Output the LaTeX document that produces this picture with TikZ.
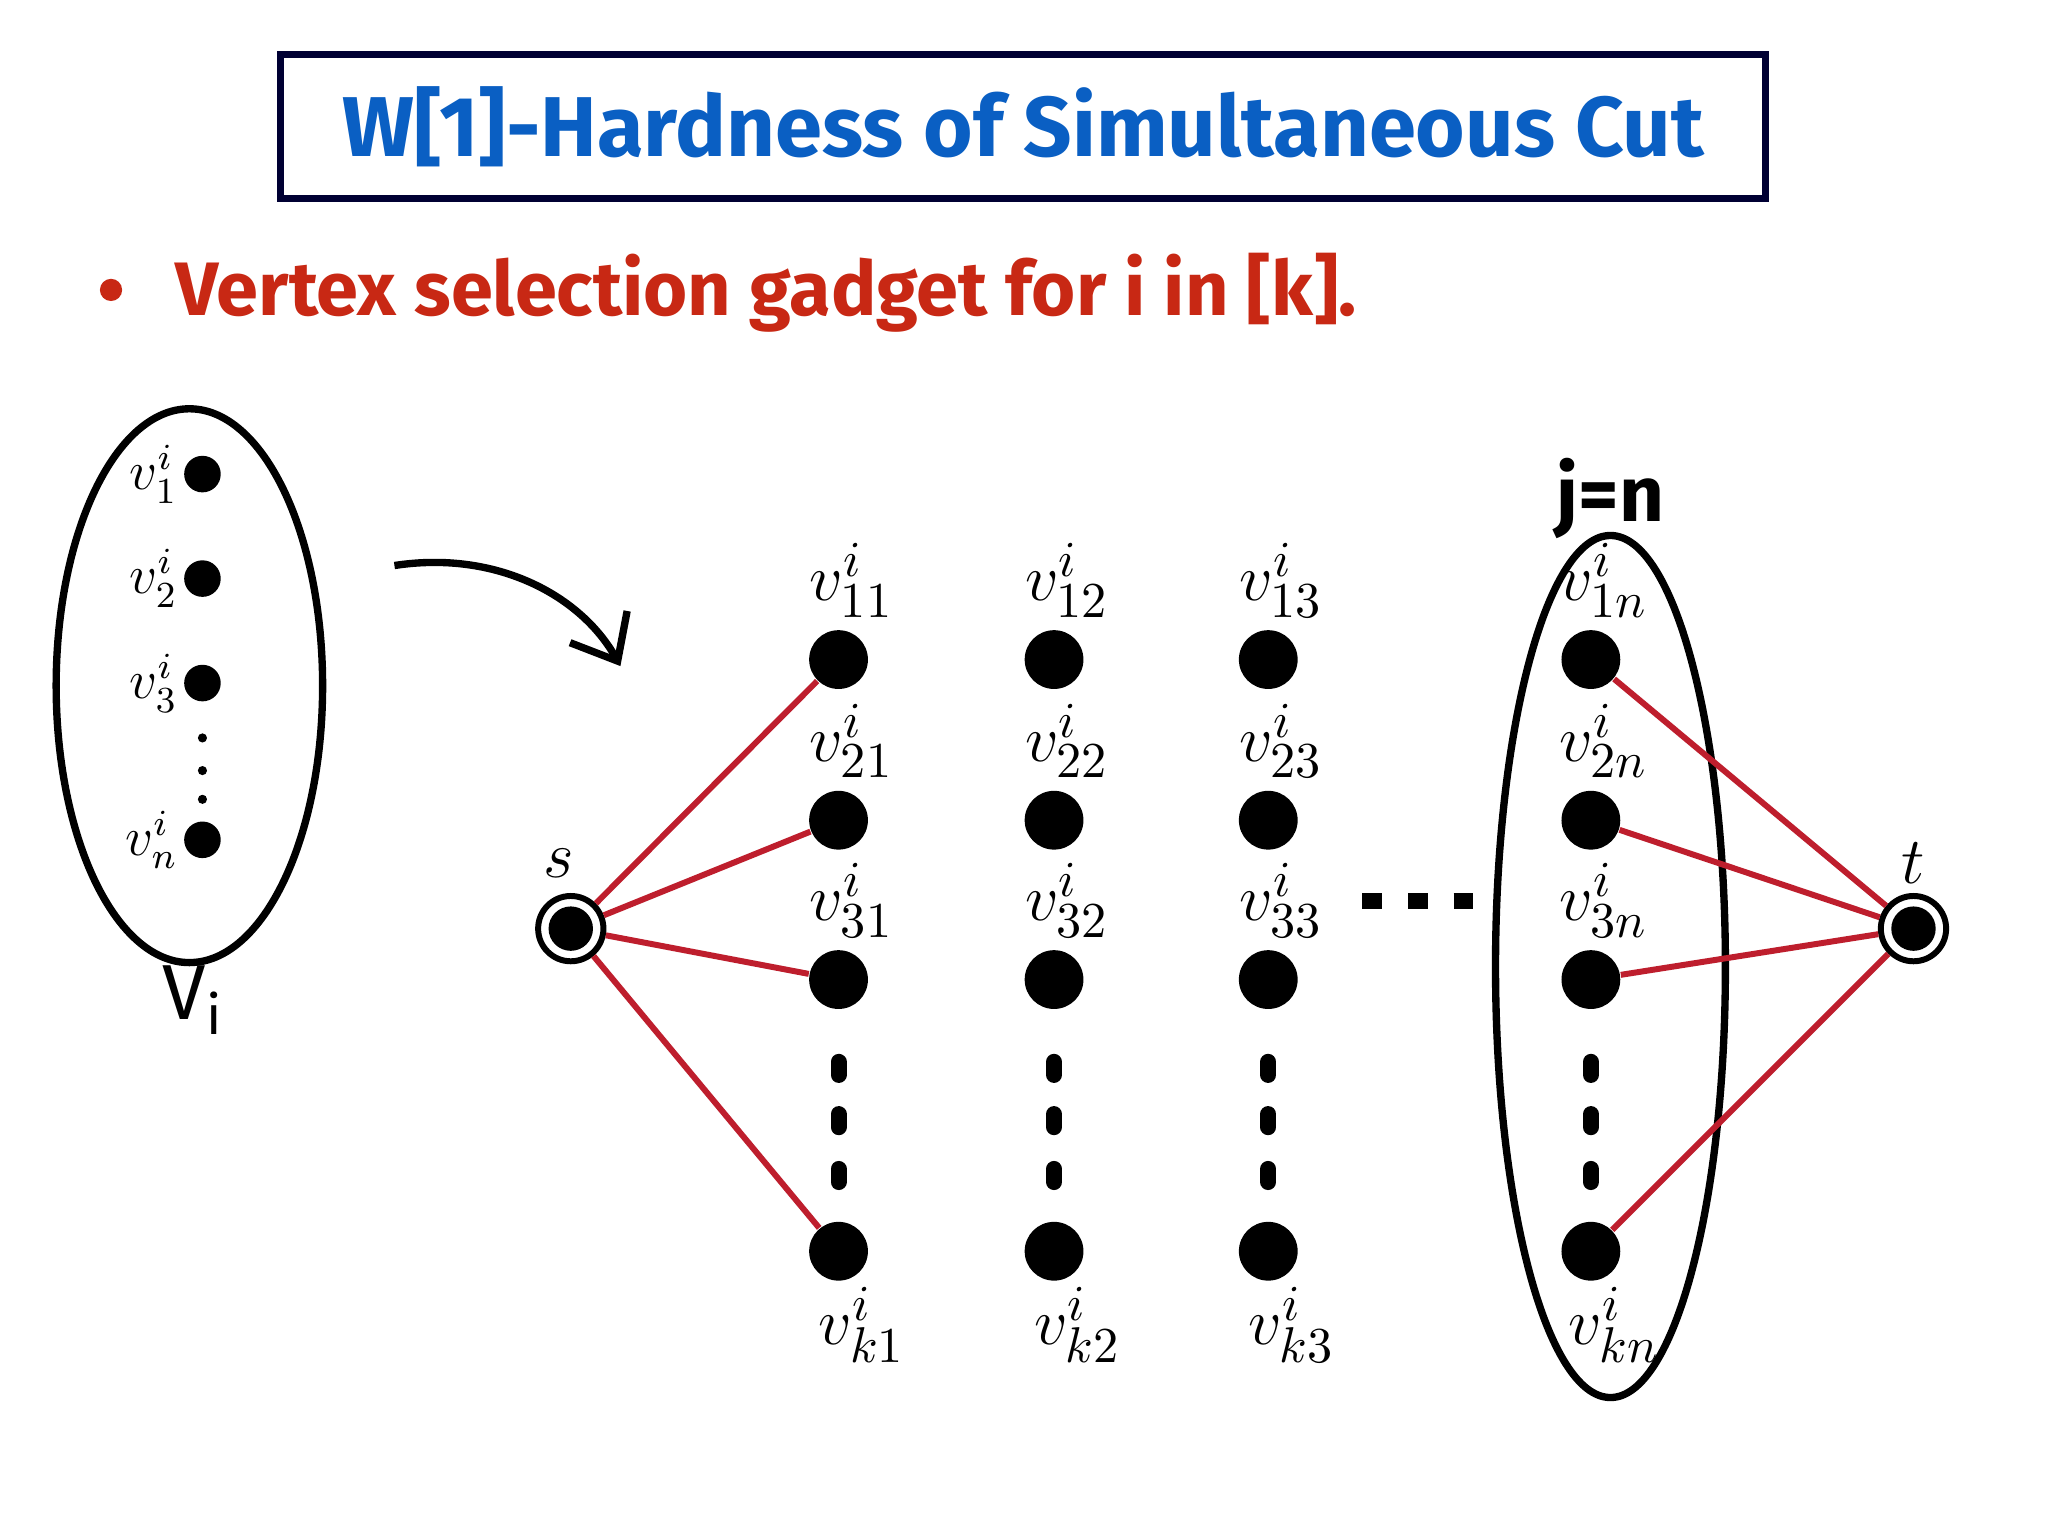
\documentclass[tikz,border=0pt]{standalone}
\usepackage{fontspec}
\setsansfont{Fira Sans}
\usetikzlibrary{arrows.meta}
\definecolor{tblue}{RGB}{10,95,195}
\definecolor{tred}{RGB}{200,40,20}
\definecolor{ered}{RGB}{190,30,45}
\tikzset{
 dot/.style={circle,fill=black,inner sep=0pt,minimum size=0.45cm},
 sdot/.style={circle,fill=black,inner sep=0pt,minimum size=0.28cm},
 term/.style={circle,draw=black,fill=white,line width=1.3pt,inner sep=0pt,minimum size=0.5cm},
 tin/.style={circle,fill=black,inner sep=0pt,minimum size=0.34cm},
 lab/.style={font=\fontsize{15}{15}\selectfont},
 slab/.style={font=\fontsize{12}{12}\selectfont},
 redge/.style={ered,line width=1.3pt},
 vd/.style={line width=3.5pt,line cap=round},
}
\begin{document}
\begin{tikzpicture}
\useasboundingbox (0,0) rectangle (15.68,11.76);
\fill[white] (0,0) rectangle (15.68,11.76);
% title
\node[draw=black!80!blue,line width=1.5pt,minimum width=11.37cm,minimum height=1.1cm,inner sep=0pt] (title) at (7.835,10.79) {};
\node[text=tblue,font=\sffamily\bfseries\fontsize{18.5}{18.5}\selectfont] (tt) at (title) {W[1]-Hardness of Simultaneous Cut};
\node[circle,fill=tred,inner sep=0pt,minimum size=0.17cm] (bul) at (0.85,9.54) {};
\node[anchor=west,text=tred,font=\sffamily\bfseries\fontsize{16.5}{16.5}\selectfont] (bt) at (1.22,9.52) {Vertex selection gadget for i in [k].};
% left ellipse
\draw[line width=1.6pt] (1.45,6.51) ellipse (1.02 and 2.12);
\foreach \n/\y/\s in {a/8.13/1,b/7.33/2,c/6.53/3,d/5.33/n}{
 \node[sdot] (L\n) at (1.55,\y) {};
 \node[slab,anchor=east,inner sep=1pt] at (L\n.west) {$v^i_{\s}$};
}
\foreach \y [count=\k] in {6.11,5.86,5.64}{\node[circle,fill=black,inner sep=0pt,minimum size=0.07cm] (ld\k) at (1.55,\y) {};}
\node[font=\sffamily\fontsize{17}{17}\selectfont] (Vi) at (1.48,4.1) {V\textsubscript{i}};
% arrow
\coordinate (a1) at (3.02,7.43);
\coordinate (a2) at (4.75,6.66);
\draw[line width=1.6pt,-{Straight Barb[length=0.3cm,width=0.5cm]}] (a1) .. controls (3.8,7.55) and (4.45,7.2) .. (a2);
% s and t
\node[term] (s) at (4.37,4.65) {};
\node[tin] (si) at (s) {};
\node[lab] at (4.28,5.15) {$s$};
\node[term] (t) at (14.65,4.65) {};
\node[tin] (ti) at (t) {};
\node[lab] at (14.65,5.15) {$t$};
% grid
\foreach \c/\x/\cl in {1/6.42/1,2/8.07/2,3/9.71/3,n/12.18/n}{
 \foreach \r/\y in {1/6.71,2/5.48,3/4.26}{
  \node[dot] (v\r\c) at (\x,\y) {};
  \node[lab,anchor=south,inner sep=1pt] at ([xshift=0.1cm,yshift=0.05cm]v\r\c.north) {$v^i_{\r\cl}$};
 }
 \node[dot] (vk\c) at (\x,2.18) {};
 \node[lab,anchor=north,inner sep=1pt] at ([xshift=0.18cm]vk\c.south) {$v^i_{k\cl}$};
 \foreach \y [count=\k] in {3.58,3.18,2.76}{\draw[vd] (\x,\y+0.05) -- (\x,\y-0.05);}
}
\draw[line width=3.5pt,dash pattern=on 0.15cm off 0.2cm] (10.43,4.86) -- (11.4,4.86);
\draw[line width=1.6pt] (12.33,4.36) ellipse (0.88 and 3.3);
\node[font=\sffamily\bfseries\fontsize{17}{17}\selectfont] (jn) at (12.33,7.94) {j=n};
\foreach \r in {1,2,3,k}{
 \draw[redge] (s) -- (v\r1);
 \draw[redge] (t) -- (v\r n);
}
\end{tikzpicture}
\end{document}
